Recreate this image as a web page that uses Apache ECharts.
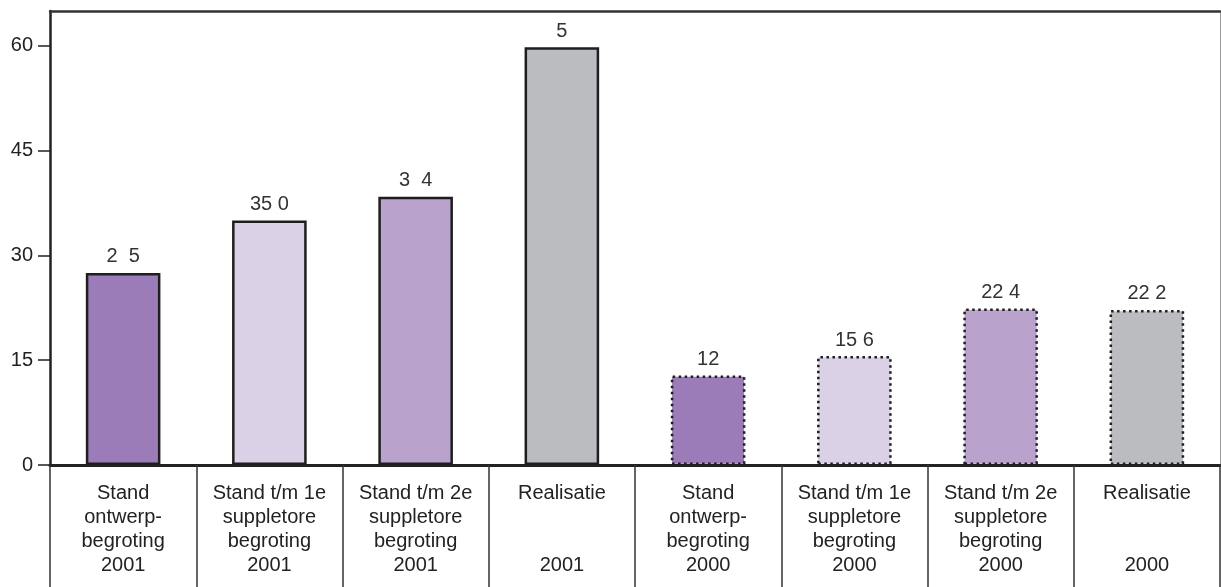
<!DOCTYPE html>
<html>
<head>
<meta charset="utf-8">
<script src="https://cdn.jsdelivr.net/npm/echarts@6/dist/echarts.min.js"></script>
<style>
html,body{margin:0;padding:0;background:#fff;}
#chart{width:1221px;height:587px;}
</style>
</head>
<body>
<div id="chart"></div>
<script>
var categories = [
  "Stand\nontwerp-\nbegroting\n2001",
  "Stand t/m 1e\nsuppletore\nbegroting\n2001",
  "Stand t/m 2e\nsuppletore\nbegroting\n2001",
  "Realisatie\n\n\n2001",
  "Stand\nontwerp-\nbegroting\n2000",
  "Stand t/m 1e\nsuppletore\nbegroting\n2000",
  "Stand t/m 2e\nsuppletore\nbegroting\n2000",
  "Realisatie\n\n\n2000"
];
var values = [27.5, 35.0, 38.4, 59.8, 12.8, 15.6, 22.4, 22.2];
var valueLabels = ["2  5", "35 0", "3  4", "5", "12", "15 6", "22 4", "22 2"];
var yTicks = [0, 15, 30, 45, 60];
var barColors = ["#9b7cb9", "#dad1e6", "#b9a3cc", "#bbbcc0", "#9b7cb9", "#dad1e6", "#b9a3cc", "#bbbcc0"];
var dottedFrom = 4;

var FONT = "Liberation Sans, Arial, sans-serif";
var chart = echarts.init(document.getElementById('chart'));
var data = values.map(function (v, i) {
  var dotted = i >= dottedFrom;
  return {
    value: v,
    itemStyle: {
      color: barColors[i],
      borderColor: '#1e1e1e',
      borderWidth: dotted ? 2.5 : 2.5,
      borderType: dotted ? [2.5, 3.5] : 'solid'
    },
    label: { formatter: valueLabels[i] }
  };
});
chart.setOption({
  animation: false,
  grid: { left: 50, right: 1, top: 11, bottom: 122, containLabel: false },
  xAxis: [{
    type: 'category',
    data: categories,
    boundaryGap: true,
    axisLine: { show: true, onZero: false, lineStyle: { color: '#222', width: 3 } },
    axisTick: { show: true, alignWithLabel: false, length: 130, lineStyle: { color: '#333', width: 1.5 } },
    axisLabel: { interval: 0, margin: 16, fontSize: 20, lineHeight: 24, color: '#222', fontFamily: FONT, align: 'center' }
  }, {
    type: 'category',
    position: 'top',
    data: categories,
    axisLine: { show: true, onZero: false, lineStyle: { color: '#333', width: 2.5 } },
    axisTick: { show: false },
    axisLabel: { show: false }
  }],
  yAxis: [{
    type: 'value',
    min: 0,
    max: 65,
    interval: 15,
    axisLine: { show: true, onZero: false, lineStyle: { color: '#222', width: 2.5 } },
    axisTick: { show: true, length: 12, customValues: yTicks, lineStyle: { color: '#222', width: 1.5 } },
    axisLabel: { margin: 17, fontSize: 20, color: '#222', fontFamily: FONT, customValues: yTicks },
    splitLine: { show: false }
  }, {
    type: 'value',
    position: 'right',
    min: 0,
    max: 65,
    axisLine: { show: true, onZero: false, lineStyle: { color: '#999', width: 1 } },
    axisTick: { show: false },
    axisLabel: { show: false },
    splitLine: { show: false }
  }],
  series: [{
    type: 'bar',
    data: data,
    barWidth: '51%',
    label: { show: true, position: 'top', distance: 6, fontSize: 20, color: '#333', fontFamily: FONT }
  }]
});
</script>
</body>
</html>
